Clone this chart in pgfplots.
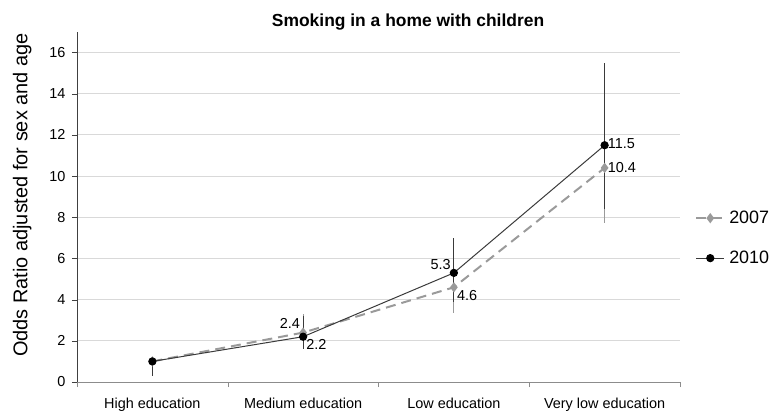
\documentclass[border=0pt]{standalone}
\usepackage{fontspec}
\setmainfont{Liberation Sans}
\usepackage{pgfplots}
\usepackage{pgfplotstable}
\pgfplotsset{compat=1.18}
\definecolor{gridgray}{HTML}{D9D9D9}
\definecolor{axgray}{HTML}{8C8C8C}
\definecolor{darkax}{HTML}{404040}
\definecolor{s2007}{HTML}{9A9A9A}
\definecolor{s2010}{HTML}{3A3A3A}

% x: category, y: odds ratio, ep/em: error bar up/down
\pgfplotstableread{
x y ep em
0 1.0 0 0.7
1 2.4 0.9 0.7
2 4.6 1.7 1.25
3 10.4 3.6 2.7
}\tabA
\pgfplotstableread{
x y ep em
0 1.0 0 0.7
1 2.2 1.0 0.6
2 5.3 1.7 1.4
3 11.5 4.0 3.1
}\tabB

\pgfplotsset{
  s07/.style={s2007, dashed, dash pattern=on 10bp off 6bp, line width=2bp,
    mark=diamond*, mark size=3.5bp, mark options={solid, fill=s2007, draw=s2007}},
  s10/.style={s2010, line width=1bp,
    mark=*, mark size=3.6bp, mark options={fill=black, draw=black}},
  lbl/.style={only marks, mark=none, forget plot, nodes near coords, point meta=explicit symbolic,
    every node near coord/.append style={anchor=#1, font=\fontsize{14.5}{16}\selectfont, text=black, inner sep=3bp}},
}

\begin{document}
\begin{tikzpicture}
\begin{axis}[
  at={(77bp,32bp)}, anchor=south west,
  scale only axis, width=603bp, height=350bp,
  xmin=-0.5, xmax=3.5, ymin=0, ymax=17,
  axis x line*=bottom, axis y line*=left,
  x axis line style={draw=axgray, -},
  y axis line style={draw=darkax, -},
  ytick={0,2,...,16},
  ymajorgrids, major grid style={draw=gridgray, line width=0.9bp},
  tick align=outside, major tick length=5bp,
  y tick style={draw=darkax},
  x tick style={draw=axgray},
  xtick={-0.5,0.5,1.5,2.5,3.5}, xticklabels={},
  extra x ticks={0,1,2,3},
  extra x tick labels={High education, Medium education, Low education, Very low education},
  extra x tick style={major tick length=0pt},
  /pgf/number format/assume math mode=true,
  tick label style={font=\fontsize{14.5}{16}\selectfont, text=black},
  xticklabel style={yshift=-13bp},
  yticklabel style={xshift=-3bp},
  title={Smoking in a home with children},
  title style={font=\bfseries\fontsize{17.5}{19}\selectfont, at={(axis description cs:0.549,1)}, anchor=center, yshift=4bp},
  ylabel={Odds Ratio adjusted for sex and age},
  ylabel style={font=\fontsize{20}{22}\selectfont, at={(axis description cs:-0.091,0.534)}, anchor=center},
  legend style={at={(axis description cs:1.025,0.411)}, anchor=west, draw=none, fill=none,
    font=\fontsize{18}{20}\selectfont, row sep=22bp, inner sep=0pt,
    nodes={inner xsep=4bp}},
  legend cell align=left,
  legend image code/.code={\draw[mark repeat=2,mark phase=2,#1] plot coordinates {(0bp,0bp)(14bp,0bp)(28bp,0bp)};},
  clip=false,
]
\addplot[s07,
  error bars/.cd, y dir=both, y explicit, error mark=none,
  error bar style={s2007, solid, line width=1bp}]
  table[x=x, y=y, y error plus=ep, y error minus=em] {\tabA};
\addlegendentry{2007}
\addplot[s10,
  error bars/.cd, y dir=both, y explicit, error mark=none,
  error bar style={s2010, line width=1bp}]
  table[x=x, y=y, y error plus=ep, y error minus=em] {\tabB};
\addlegendentry{2010}
% data labels
\addplot[lbl=south east] coordinates {(1,2.45) [2.4] (2,5.3) [5.3]};
\addplot[lbl=north west] coordinates {(1,2.2) [2.2] (2,4.6) [4.6]};
\addplot[lbl=west] coordinates {(3,11.6) [11.5] (3,10.4) [10.4]};
\end{axis}
\pgfresetboundingbox
\path[use as bounding box] (0,0) rectangle (772bp,414bp);
\end{tikzpicture}
\end{document}
